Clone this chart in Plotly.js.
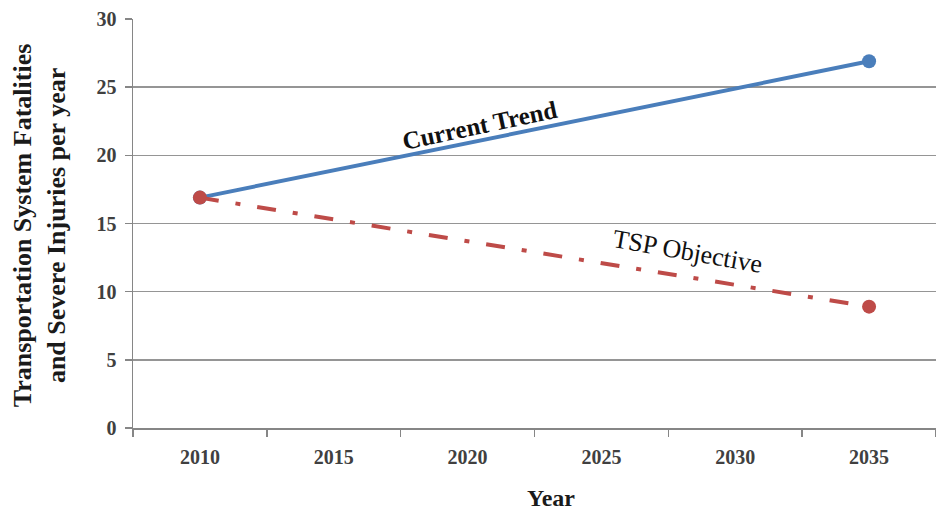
<!DOCTYPE html>
<html>
<head>
<meta charset="utf-8">
<script src="https://cdn.plot.ly/plotly-3.0.1.min.js"></script>
<style>
  html, body { margin: 0; padding: 0; background: #fff; }
  #chart { width: 936px; height: 512px; }
</style>
</head>
<body>
<div id="chart"></div>
<script>
// Year categories shown on the x axis
const years = ['2010', '2015', '2020', '2025', '2030', '2035'];

// Fatalities and severe injuries per year
const trendYears = ['2010', '2035'];
const currentTrend = [16.9, 26.9];
const objectiveYears = ['2010', '2035'];
const tspObjective = [16.9, 8.9];

const serif = '"Liberation Serif", "Times New Roman", serif';

const traces = [
  {
    x: trendYears, y: currentTrend, type: 'scatter', mode: 'lines+markers',
    name: 'Current Trend',
    line: { color: '#4a7ebb', width: 4 },
    marker: { color: '#4a7ebb', size: 14 }
  },
  {
    x: objectiveYears, y: tspObjective, type: 'scatter', mode: 'lines+markers',
    name: 'TSP Objective',
    line: { color: '#be4b48', width: 4, dash: '19px,17px,5px,17px' },
    marker: { color: '#be4b48', size: 14 }
  }
];

const layout = {
  width: 936, height: 512,
  margin: { l: 133, r: 0, t: 19, b: 84 },
  paper_bgcolor: '#fff', plot_bgcolor: '#fff',
  showlegend: false,
  font: { family: serif, color: '#404040' },
  xaxis: {
    type: 'category', categoryarray: years, categoryorder: 'array',
    range: [-0.5, 5.5], tickson: 'boundaries',
    ticks: 'outside', ticklen: 7, tickcolor: '#868686', tickwidth: 1.5,
    ticklabelstandoff: 10,
    showgrid: false, showline: true, linecolor: '#868686', linewidth: 1.5,
    tickfont: { family: serif, size: 20, color: '#404040', weight: 'bold' },
    fixedrange: true
  },
  yaxis: {
    range: [0, 30], dtick: 5, tick0: 0,
    ticks: 'outside', ticklen: 7, tickcolor: '#868686', tickwidth: 1.5,
    ticklabelstandoff: 4,
    showgrid: true, gridcolor: '#959595', gridwidth: 1.5,
    zeroline: false, showline: true, linecolor: '#868686', linewidth: 1.5,
    tickfont: { family: serif, size: 20, color: '#404040', weight: 'bold' },
    fixedrange: true
  },
  annotations: [
    {
      xref: 'paper', yref: 'paper', x: -0.117, y: 0.496, xanchor: 'center', yanchor: 'middle',
      text: '<b>Transportation System Fatalities<br>and Severe Injuries per year</b>',
      textangle: -90, showarrow: false,
      font: { family: serif, size: 26, color: '#1a1a1a' }
    },
    {
      xref: 'paper', yref: 'paper', x: 0.52, y: -0.172, xanchor: 'center', yanchor: 'middle',
      text: '<b>Year</b>', showarrow: false,
      font: { family: serif, size: 24, color: '#1a1a1a' }
    },
    {
      xref: 'paper', yref: 'paper', x: 0.431, y: 0.74, xanchor: 'center', yanchor: 'middle',
      text: 'Current Trend', textangle: -12, showarrow: false,
      font: { family: serif, size: 25, color: '#111', weight: 'bold' }
    },
    {
      xref: 'paper', yref: 'paper', x: 0.690, y: 0.432, xanchor: 'center', yanchor: 'middle',
      text: 'TSP Objective', textangle: 10, showarrow: false,
      font: { family: serif, size: 26, color: '#111' }
    }
  ]
};

Plotly.newPlot('chart', traces, layout, { displayModeBar: false, staticPlot: true });
</script>
</body>
</html>
